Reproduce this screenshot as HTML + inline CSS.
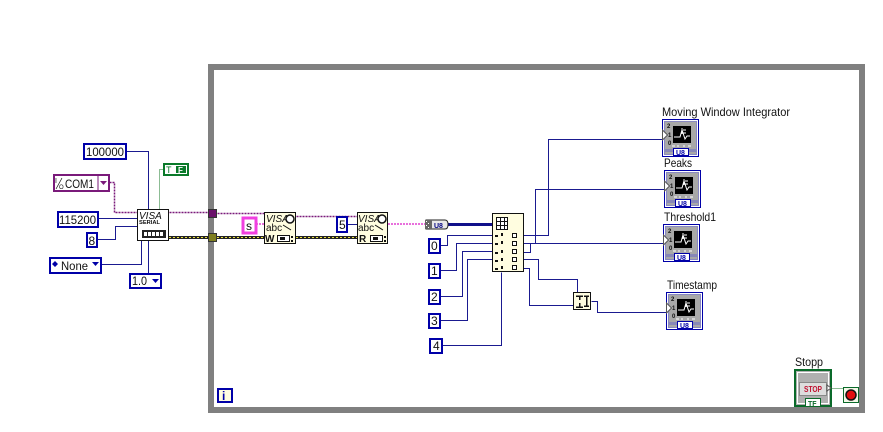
<!DOCTYPE html>
<html><head><meta charset="utf-8"><style>
html,body{margin:0;padding:0;background:#fff;width:883px;height:432px;overflow:hidden}
svg{display:block}
text{font-family:"Liberation Sans",sans-serif;font-size:11px;fill:#111}
.b{fill:#fff;stroke:#0000a8;stroke-width:2}
.w{fill:none;stroke:#1a1a90;stroke-width:1;shape-rendering:crispEdges}
.c{shape-rendering:crispEdges}
.n{fill:#fffde0;stroke:#111;stroke-width:1}
</style></head><body>
<svg width="883" height="432" viewBox="0 0 883 432" xmlns="http://www.w3.org/2000/svg">
<defs>
<g id="ind">
<rect class="c" x="0.500" y="0.500" width="36" height="37" fill="#fff" stroke="#0000a8"/>
<rect class="c" x="2.500" y="2.500" width="32" height="33" fill="#a8a8a8" stroke="#8888c0"/>
<rect class="c" x="11" y="7" width="18" height="17" fill="#000"/>
<path d="M12 18h6l2-7 3 9 2-3h3M20 9v6M21 11h3M21 14h3" fill="none" stroke="#fff" stroke-width="1"/>
<rect class="c" x="3" y="30" width="31" height="3" fill="#8888b8"/>
<rect class="c" x="11.500" y="29.500" width="15" height="7" fill="#fff" stroke="#0000a8"/>
<path d="M0.500 11l5 5-5 5z" fill="#fff" stroke="#555"/>
<text x="14" y="36" style="font-size:7px;font-weight:bold;fill:#0000a8">U8</text>
<text x="5" y="9" style="font-size:6px;font-weight:bold">2</text>
<text x="6" y="18" style="font-size:6px;font-weight:bold">1</text>
<text x="6" y="26" style="font-size:6px;font-weight:bold">0</text>
<path d="M10 27h3M15 27h2M21 27h2M26 27h3" stroke="#fff"/>
</g>
</defs>

<!-- loop frame -->
<path class="c" d="M211 67H862V410H211Z" fill="none" stroke="#808080" stroke-width="6"/>

<!-- wires -->
<g transform="translate(.5 .5)">
<path class="w" d="M126 151H148V209M98 218H137M97 239H115V226H137M101 264H141V240M148 240V273"/>
<path d="M159 209V169H163" fill="none" stroke="#1a7a2a" stroke-width="1" stroke-dasharray="1 1"/>
<path d="M109 182H114V212H137M169 212H208M217 213H264M296 216H357" fill="none" stroke="#7a1a7a" stroke-width="1.500" stroke-dasharray="2 1"/>
<path class="w" d="M347 224H357"/>
<path class="w" d="M440 245H447V235H492M440 270H456V243H492M440 296H462V251H492M440 320H467V259H492M442 345H501V272"/>
<path class="w" d="M523 235H548V139H662M523 243H535V189H664M523 252H530V243H663M523 259H538V279H577V292M523 268H529V305H573M591 301H597V312H666"/>
<path d="M832 388H843" fill="none" stroke="#1a7a2a" stroke-width="1" stroke-dasharray="1 1"/>
</g>
<path class="c" d="M169 236h95v3h-95zM296 236h61v3h-61z" fill="#222"/>
<path d="M169 237.500H264M296 237.500H357" fill="none" stroke="#e8e040" stroke-width="1" stroke-dasharray="2 2"/>
<path d="M256 224H264M388 224H425" fill="none" stroke="#e040d0" stroke-width="1.400" stroke-dasharray="2 1"/>
<path class="c" d="M448 223h44v3h-44z" fill="#10108a"/>

<!-- constants left -->
<g class="c">
<rect class="b" x="84" y="144" width="42" height="15"/>
<rect x="54" y="175" width="55" height="16" fill="#fff" stroke="#7a1a7a" stroke-width="2"/>
<path d="M98 175V191" stroke="#7a1a7a"/>
<rect class="b" x="58" y="212" width="40" height="15"/>
<rect class="b" x="87" y="233" width="10" height="14"/>
<rect class="b" x="50" y="258" width="51" height="15"/>
<rect class="b" x="130" y="274" width="31" height="14"/>
<rect x="164" y="164" width="24" height="11" fill="#fff" stroke="#0a7a2a" stroke-width="2"/>
<rect x="176" y="166" width="10" height="7" fill="#0a7a2a"/>
<rect x="243" y="218" width="13" height="15" fill="#fff" stroke="#f040e0" stroke-width="3"/>
<rect class="b" x="337" y="217" width="10" height="15"/>
<rect class="b" x="429" y="239" width="11" height="14"/>
<rect class="b" x="429" y="264" width="11" height="14"/>
<rect class="b" x="429" y="290" width="11" height="14"/>
<rect class="b" x="429" y="314" width="11" height="14"/>
<rect class="b" x="430" y="339" width="12" height="14"/>
</g>
<g style="font-size:12px">
<text x="86" y="156" textLength="38" lengthAdjust="spacingAndGlyphs" style="font-size:12px">100000</text>
<text x="65" y="188" textLength="29" lengthAdjust="spacingAndGlyphs" style="font-size:12px">COM1</text>
<text x="59" y="224" textLength="37" lengthAdjust="spacingAndGlyphs" style="font-size:12px">115200</text>
<text x="88.500" y="245" style="font-size:12px">8</text>
<text x="61" y="270" textLength="27" lengthAdjust="spacingAndGlyphs" style="font-size:12px">None</text>
<text x="132" y="285" textLength="15" lengthAdjust="spacingAndGlyphs" style="font-size:12px">1.0</text>
<text x="246" y="230" style="font-size:12px">s</text>
<text x="339" y="229" style="font-size:12px">5</text>
<text x="431" y="250" style="font-size:12px">0</text><text x="431" y="275" style="font-size:12px">1</text><text x="431" y="301" style="font-size:12px">2</text><text x="431" y="325" style="font-size:12px">3</text><text x="433" y="350" style="font-size:12px">4</text>
</g>
<text x="55" y="183" style="font-size:7px">I</text><text x="59" y="189" style="font-size:6px">O</text>
<path d="M56 189l6-11" stroke="#111" stroke-width=".7"/>
<path d="M100 181h7l-3.500 4z" fill="#7a1a7a"/>
<path d="M52 264l3-3v6zM58 264l-3-3v6z" fill="#0000a8"/>
<path d="M92 262h7l-3.500 4z" fill="#0000a8"/>
<path d="M152 279h7l-3.500 4z" fill="#0000a8"/>
<text x="166" y="173" style="font-size:9px;fill:#0a7a2a">T</text>
<text x="178" y="173" style="font-size:8px;font-weight:bold;fill:#fff">F</text>

<!-- loop terminals -->
<rect class="c" x="208.500" y="209.500" width="8" height="8" fill="#6a106a" stroke="#333"/>
<rect class="c" x="208.500" y="233.500" width="8" height="8" fill="#7f7f20" stroke="#333"/>

<!-- VISA serial -->
<rect class="c" x="137.500" y="209.500" width="31" height="31" fill="#fff" stroke="#111"/>
<text x="139" y="219" style="font-size:10px;font-style:italic">VISA</text>
<text x="139" y="224" textLength="21" lengthAdjust="spacingAndGlyphs" style="font-size:5px;font-weight:bold">SERIAL</text>
<rect class="c" x="142" y="230" width="24" height="8" fill="#222"/>
<path class="c" d="M144 232h3v4h-3zM148 232h3v4h-3zM152 232h3v4h-3zM156 232h3v4h-3zM160 232h3v4h-3z" fill="#fff"/>

<!-- VISA write -->
<rect class="c n" x="264.500" y="212.500" width="31" height="31"/>
<text x="266" y="222" style="font-size:10px;font-style:italic">VISA</text>
<text x="266" y="231" style="font-size:10px">abc</text>
<circle cx="290" cy="219" r="4" fill="#fff" stroke="#111" stroke-width="1.500"/>
<path d="M283 225l8 5" stroke="#111"/>
<text x="265" y="242" style="font-size:10px;font-weight:bold">W</text>
<rect class="c" x="277.500" y="235.500" width="12" height="6" fill="#fff" stroke="#111"/>
<rect class="c" x="280" y="237" width="5" height="3" fill="#111"/>
<path class="c" d="M291 236h2v2h-2zM291 240h2v2h-2z" fill="#111"/>
<!-- VISA read -->
<rect class="c n" x="357.500" y="212.500" width="30" height="31"/>
<text x="358" y="222" style="font-size:10px;font-style:italic">VISA</text>
<text x="358" y="231" style="font-size:10px">abc</text>
<circle cx="382" cy="219" r="4" fill="#fff" stroke="#111" stroke-width="1.500"/>
<path d="M375 225l8 5" stroke="#111"/>
<text x="359" y="242" style="font-size:10px;font-weight:bold">R</text>
<rect class="c" x="370.500" y="235.500" width="12" height="6" fill="#fff" stroke="#111"/>
<rect class="c" x="373" y="237" width="5" height="3" fill="#111"/>
<path class="c" d="M384 236h2v2h-2zM384 240h2v2h-2z" fill="#111"/>

<!-- typecast -->
<path d="M426 220h19q3 0 3 4.500t-3 4.500h-19z" fill="#e8e8e8" stroke="#222"/>
<path class="c" d="M425 220h7v9h-7z" fill="#666"/>
<path class="c" d="M426 221h1v1h-1zM428 223h1v1h-1zM426 225h1v1h-1zM428 227h1v1h-1z" fill="#fff"/>
<text x="434" y="228" style="font-size:7px;font-weight:bold;fill:#000080">U8</text>

<!-- array subset -->
<rect class="c n" x="492.500" y="213.500" width="31" height="58"/>
<path class="c" d="M496.500 217.500h11v12h-11zM496.500 221.500h11M496.500 225.500h11M500.500 217.500v12M504.500 217.500v12" fill="#fff" stroke="#111"/>
<g class="c" fill="#111">
<rect x="495" y="235" width="3" height="2"/><rect x="495" y="243" width="3" height="2"/><rect x="495" y="252" width="3" height="2"/><rect x="495" y="260" width="3" height="2"/><rect x="495" y="268" width="3" height="2"/>
<rect x="501" y="233" width="2" height="3"/><rect x="501" y="241" width="2" height="3"/><rect x="501" y="250" width="2" height="3"/><rect x="501" y="258" width="2" height="3"/><rect x="501" y="266" width="2" height="3"/>
</g>
<g class="c" fill="#fff" stroke="#111">
<rect x="512.500" y="233.500" width="4" height="4"/><rect x="512.500" y="241.500" width="4" height="4"/><rect x="512.500" y="249.500" width="4" height="4"/><rect x="512.500" y="257.500" width="4" height="4"/><rect x="512.500" y="265.500" width="4" height="4"/>
</g>

<!-- join -->
<rect class="c n" x="573.500" y="292.500" width="17" height="17"/>
<path class="c" d="M576 296h7M579.500 296v4M576 307h7M579.500 303v4M584 296h5M584 306h5M586.500 296v10" stroke="#111" stroke-width="1.500" fill="none"/>

<!-- indicators -->
<use href="#ind" x="662" y="119"/>
<use href="#ind" x="664" y="170"/>
<use href="#ind" x="663" y="224"/>
<use href="#ind" x="666" y="292"/>
<text x="662" y="116" textLength="128" lengthAdjust="spacingAndGlyphs" style="font-size:12px">Moving Window Integrator</text>
<text x="664" y="167" textLength="28" lengthAdjust="spacingAndGlyphs" style="font-size:12px">Peaks</text>
<text x="664" y="221" textLength="52" lengthAdjust="spacingAndGlyphs" style="font-size:12px">Threshold1</text>
<text x="667" y="289" textLength="50" lengthAdjust="spacingAndGlyphs" style="font-size:12px">Timestamp</text>

<!-- i -->
<rect class="c" x="218" y="389" width="14" height="13" fill="#fffde0" stroke="#0000a8" stroke-width="2"/>
<text x="222" y="400" style="font-size:12px;font-weight:bold;fill:#0000a8">i</text>

<!-- stop -->
<text x="795" y="366" textLength="28" lengthAdjust="spacingAndGlyphs" style="font-size:12px">Stopp</text>
<rect class="c" x="795" y="370" width="36" height="36" fill="#b0b0b0" stroke="#0a6a2a" stroke-width="2"/>
<rect class="c" x="797.500" y="372.500" width="31" height="31" fill="#b0b0b0" stroke="#fff"/>
<rect class="c" x="799.500" y="382.500" width="27" height="13" fill="#ddd" stroke="#888"/>
<text x="804" y="392" textLength="18" lengthAdjust="spacingAndGlyphs" style="font-size:8px;font-weight:bold;fill:#c01030">STOP</text>
<path d="M827 385l4 3-4 3z" fill="#fff" stroke="#555"/>
<rect class="c" x="805.500" y="398.500" width="15" height="8" fill="#fff" stroke="#0a6a2a"/>
<text x="808" y="406" style="font-size:7px;font-weight:bold;fill:#0a6a2a">TF</text>
<rect class="c" x="843.500" y="387.500" width="15" height="15" fill="#f4f8e8" stroke="#0a6a2a"/>
<circle cx="851" cy="395" r="5" fill="#e01010" stroke="#111" stroke-width="1.500"/>
</svg>
</body></html>
